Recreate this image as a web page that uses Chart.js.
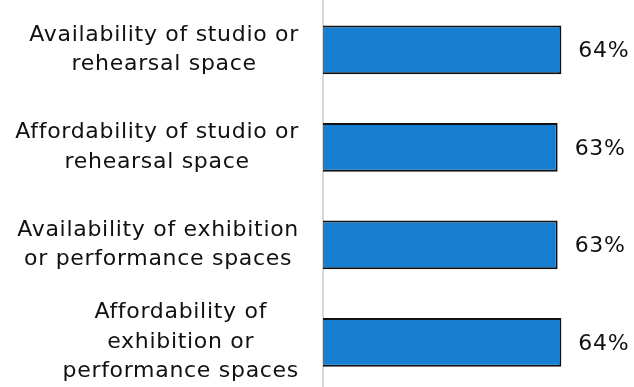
<!DOCTYPE html>
<html>
<head>
<meta charset="utf-8">
<script src="https://cdn.jsdelivr.net/npm/chart.js@4/dist/chart.umd.min.js"></script>
<style>
  html, body { margin: 0; padding: 0; background: #fff; overflow: hidden; }
  #wrap { width: 634px; height: 391px; }
</style>
</head>
<body>
<div id="wrap"><canvas id="spaceChart" width="634" height="391"></canvas></div>
<script>
// Категории (строки подписи) и доли ответов, %
const categories = [
  ['Availability of studio or', 'rehearsal space'],
  ['Affordability of studio or', 'rehearsal space'],
  ['Availability of exhibition', 'or performance spaces'],
  ['Affordability of', 'exhibition or', 'performance spaces']
];
const shares = [64, 63, 63, 64];

const FONT = '22px "DejaVu Sans"';
const SPACING = '0.7px';
const TEXT_COLOR = '#111111';

// Подписи категорий: блок выровнен вправо, строки внутри блока по центру
const categoryLabels = {
  id: 'categoryLabels',
  afterDraw(chart) {
    const ctx = chart.ctx;
    const yScale = chart.scales.y;
    const right = 299;
    const lineH = 29.5;
    ctx.save();
    ctx.font = FONT;
    ctx.fillStyle = TEXT_COLOR;
    ctx.letterSpacing = SPACING;
    ctx.textAlign = 'center';
    ctx.textBaseline = 'middle';
    categories.forEach((lines, i) => {
      const cy = yScale.getPixelForTick(i);
      const blockW = Math.max(...lines.map(l => ctx.measureText(l).width));
      const cx = right - blockW / 2;
      lines.forEach((l, j) => {
        ctx.fillText(l, cx, cy + (j - (lines.length - 1) / 2) * lineH);
      });
    });
    ctx.restore();
  }
};

// Значения справа от столбцов
const valueLabels = {
  id: 'valueLabels',
  afterDatasetsDraw(chart) {
    const ctx = chart.ctx;
    const meta = chart.getDatasetMeta(0);
    ctx.save();
    ctx.font = FONT;
    ctx.fillStyle = TEXT_COLOR;
    ctx.letterSpacing = SPACING;
    ctx.textAlign = 'left';
    ctx.textBaseline = 'middle';
    meta.data.forEach((bar, i) => {
      ctx.fillText(shares[i] + '%', bar.x + 17, bar.y + 2);
    });
    ctx.restore();
  }
};

const ctx = document.getElementById('spaceChart').getContext('2d');
new Chart(ctx, {
  type: 'bar',
  data: {
    labels: categories,
    datasets: [{
      data: shares,
      backgroundColor: '#167fd2',
      borderColor: '#111111',
      borderWidth: 2,
      categoryPercentage: 1,
      barPercentage: 0.5
    }]
  },
  options: {
    indexAxis: 'y',
    responsive: false,
    animation: false,
    devicePixelRatio: 1,
    layout: { padding: { top: 1, right: 0, bottom: 0, left: 0 } },
    plugins: {
      legend: { display: false },
      tooltip: { enabled: false }
    },
    scales: {
      x: {
        display: false,
        min: 0,
        max: 83.5
      },
      y: {
        ticks: { display: false },
        grid: { display: false },
        border: { display: true, color: '#d9d9d9', width: 2 },
        afterFit(scale) { scale.width = 323; }
      }
    }
  },
  plugins: [categoryLabels, valueLabels]
});
</script>
</body>
</html>
